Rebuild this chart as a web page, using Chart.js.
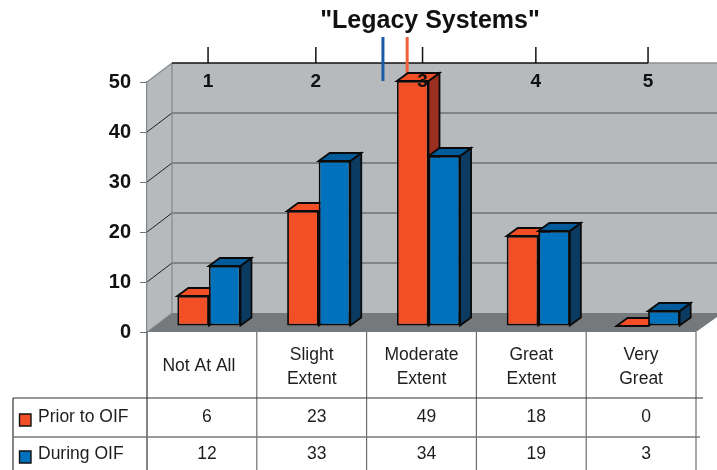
<!DOCTYPE html>
<html>
<head>
<meta charset="utf-8">
<title>Legacy Systems</title>
<script src="https://cdn.jsdelivr.net/npm/chart.js@4/dist/chart.umd.min.js"></script>
<style>
    html, body { margin: 0; padding: 0; background: #fff; }
    canvas { display: block; }
</style>
</head>
<body>
<canvas id="legacyChart" width="717" height="470"></canvas>
<script>
const chartTitle = '"Legacy Systems"';
const categories = [['Not At All'], ['Slight', 'Extent'], ['Moderate', 'Extent'], ['Great', 'Extent'], ['Very', 'Great']];
const priorValues = [6, 23, 49, 18, 0];
const duringValues = [12, 33, 34, 19, 3];
const seriesNames = ['Prior to OIF', 'During OIF'];

// hand-drawn 1-5 scale across the top of the chart, and the two mean markers on it
const scaleLabels = ['1', '2', '3', '4', '5'];
const scaleValues = [1, 1.98, 2.95, 3.98, 5];
const priorMean = 2.81;
const duringMean = 2.59;

const ORANGE = '#F24F26';
const ORANGE_SIDE = '#9C3020';
const BLUE = '#0071BC';
const BLUE_TOP = '#005B9A';
const BLUE_SIDE = '#0C3B62';
const WALL = '#B6BABD';
const FLOOR = '#76797C';
const EDGE = '#83888C';
const FONT = '"Liberation Sans", Arial, sans-serif';

// 3D look: offsets from the front plane (the chart area)
const WALL_DX = 25, WALL_DY = -19;
const BAR_DX = 7, BAR_DY = -6;
const SIDE_DX = 11, SIDE_DY = -8;
const TABLE_ROW1 = 398, TABLE_ROW2 = 437, TABLE_LEFT = 13;

function polygon(ctx, points, fill, stroke, lineWidth) {
    ctx.beginPath();
    points.forEach((p, i) => i ? ctx.lineTo(p[0], p[1]) : ctx.moveTo(p[0], p[1]));
    ctx.closePath();
    ctx.fillStyle = fill;
    ctx.fill();
    if (stroke) {
        ctx.strokeStyle = stroke;
        ctx.lineWidth = lineWidth;
        ctx.stroke();
    }
}

function line(ctx, x1, y1, x2, y2, color, width) {
    ctx.beginPath();
    ctx.moveTo(x1, y1);
    ctx.lineTo(x2, y2);
    ctx.strokeStyle = color;
    ctx.lineWidth = width;
    ctx.stroke();
}

const plot3d = {
    id: 'plot3d',
    beforeDraw(chart) {
        const { ctx, chartArea: a, scales } = chart;
        const y = scales.y;
        const right = chart.width;
        const backTop = a.top + WALL_DY;
        const backBottom = a.bottom + WALL_DY;
        const backLeft = a.left + WALL_DX;
        ctx.save();

        polygon(ctx, [[backLeft, backTop], [right, backTop], [right, backBottom], [backLeft, backBottom]], WALL);
        polygon(ctx, [[a.left, a.top], [backLeft, backTop], [backLeft, backBottom], [a.left, a.bottom]], WALL);
        polygon(ctx, [[a.left, a.bottom], [backLeft, backBottom], [right, backBottom], [right, backBottom + 4], [a.right, a.bottom]], FLOOR);

        y.ticks.forEach(t => {
            if (t.value === 0 || t.value === y.max) return;
            const py = y.getPixelForValue(t.value);
            line(ctx, a.left, py, backLeft, py + WALL_DY, '#222', 1);
            line(ctx, backLeft, py + WALL_DY, right, py + WALL_DY, '#4A4E52', 1.2);
        });
        line(ctx, a.left, a.top, backLeft, backTop, EDGE, 1.2);
        line(ctx, backLeft, backTop, backLeft, backBottom, EDGE, 1.2);
        line(ctx, a.left, a.bottom, backLeft, backBottom, EDGE, 1);

        // top rule with its tick marks
        const top = scales.scaleTop;
        const lastX = top.getPixelForValue(scaleValues[scaleValues.length - 1]);
        line(ctx, lastX, backTop, right, backTop, '#8E9296', 1.5);
        line(ctx, backLeft, backTop, lastX, backTop, '#111', 1.5);
        scaleValues.forEach(v => {
            const px = top.getPixelForValue(v);
            line(ctx, px, backTop, px, backTop - 16, '#111', 1.5);
        });

        // the two mean markers
        line(ctx, top.getPixelForValue(duringMean), 37, top.getPixelForValue(duringMean), 81, '#1B5AA6', 3);
        line(ctx, top.getPixelForValue(priorMean), 37, top.getPixelForValue(priorMean), 76, '#F0603C', 3);

        ctx.restore();
    },
    // sides and tops go first, in series order, so each front covers the neighbour's side
    beforeDatasetsDraw(chart) {
        const ctx = chart.ctx;
        ctx.save();
        ctx.translate(BAR_DX, BAR_DY);
        ctx.lineJoin = 'miter';
        chart.data.datasets.forEach((ds, i) => {
            chart.getDatasetMeta(i).data.forEach(bar => {
                const { x, y, width, base } = bar.getProps(['x', 'y', 'width', 'base'], true);
                const l = x - width / 2, r = x + width / 2;
                polygon(ctx, [[r, y], [r + SIDE_DX, y + SIDE_DY], [r + SIDE_DX, base + SIDE_DY], [r, base]], ds.sideColor, '#0A0A0A', 1.8);
                polygon(ctx, [[l, y], [l + SIDE_DX, y + SIDE_DY], [r + SIDE_DX, y + SIDE_DY], [r, y]], ds.topColor, '#0A0A0A', 1.8);
            });
        });
        ctx.restore();
    },
    beforeDatasetDraw(chart) {
        chart.ctx.save();
        chart.ctx.translate(BAR_DX, BAR_DY);
    },
    afterDatasetDraw(chart) {
        chart.ctx.restore();
    },
    afterDraw(chart) {
        const { ctx, chartArea: a, scales } = chart;
        const x = scales.x;
        const cellWidth = (a.right - a.left) / categories.length;
        ctx.save();
        ctx.textAlign = 'center';
        ctx.textBaseline = 'middle';

        ctx.fillStyle = '#111';
        ctx.font = 'bold 25px ' + FONT;
        ctx.fillText(chartTitle, 430, 21);

        ctx.font = 'bold 19px ' + FONT;
        scaleLabels.forEach((label, i) => {
            ctx.fillText(label, scales.scaleTop.getPixelForValue(scaleValues[i]), 82);
        });

        // data table under the plot
        const bottom = chart.height;
        for (let i = 1; i <= categories.length; i++) {
            line(ctx, a.left + cellWidth * i, a.bottom, a.left + cellWidth * i, bottom, '#6E6E6E', 1.2);
        }
        line(ctx, a.left, a.bottom, a.left, bottom, '#333', 1.2);
        line(ctx, TABLE_LEFT, TABLE_ROW1, TABLE_LEFT, bottom, '#333', 1.2);
        line(ctx, TABLE_LEFT, TABLE_ROW1, a.right + 7, TABLE_ROW1, '#333', 1.2);
        line(ctx, TABLE_LEFT, TABLE_ROW2, a.right + 4, TABLE_ROW2, '#777', 1.4);

        ctx.font = '17.5px ' + FONT;
        ctx.fillStyle = '#1E1E1E';
        categories.forEach((lines, i) => {
            const cx = x.getPixelForTick(i);
            if (lines.length === 1) {
                ctx.fillText(lines[0], cx - 3, 366);
            } else {
                ctx.fillText(lines[0], cx, 355);
                ctx.fillText(lines[1], cx, 379);
            }
            ctx.fillText(String(priorValues[i]), cx + 5, 417);
            ctx.fillText(String(duringValues[i]), cx + 5, 454);
        });

        ctx.textAlign = 'left';
        [[417, 0], [454, 1]].forEach(([rowY, i]) => {
            polygon(ctx, [[19.5, rowY - 3], [31, rowY - 3], [31, rowY + 9], [19.5, rowY + 9]], chart.data.datasets[i].backgroundColor, '#111', 1.4);
            ctx.fillStyle = '#1E1E1E';
            ctx.fillText(seriesNames[i], 38, rowY);
        });
        ctx.restore();
    }
};

new Chart(document.getElementById('legacyChart'), {
    type: 'bar',
    data: {
        labels: categories.map(c => c.join(' ')),
        datasets: [
            { label: seriesNames[0], data: priorValues, backgroundColor: ORANGE, topColor: ORANGE, sideColor: ORANGE_SIDE },
            { label: seriesNames[1], data: duringValues, backgroundColor: BLUE, topColor: BLUE_TOP, sideColor: BLUE_SIDE }
        ]
    },
    options: {
        responsive: false,
        animation: false,
        layout: { padding: { top: 82, bottom: 138, right: 21, left: 0 } },
        datasets: {
            bar: {
                barPercentage: 1,
                categoryPercentage: 0.575,
                borderColor: '#0A0A0A',
                borderWidth: 1.8,
                borderSkipped: false,
                clip: false
            }
        },
        plugins: {
            legend: { display: false },
            title: { display: false },
            tooltip: { enabled: false }
        },
        scales: {
            x: { display: false, grid: { display: false } },
            scaleTop: { type: 'linear', position: 'top', display: false, offset: false, min: 0.445, max: 5.436 },
            y: {
                min: 0,
                max: 50,
                afterFit(scale) { scale.width = 147; },
                ticks: {
                    stepSize: 10,
                    padding: 9,
                    color: '#111',
                    font: { family: FONT, size: 20, weight: 'bold' }
                },
                grid: { drawOnChartArea: false, drawTicks: true, tickLength: 7, color: '#6E7276', lineWidth: 1 },
                border: { color: EDGE, width: 1.2 }
            }
        }
    },
    plugins: [plot3d]
});
</script>
</body>
</html>
